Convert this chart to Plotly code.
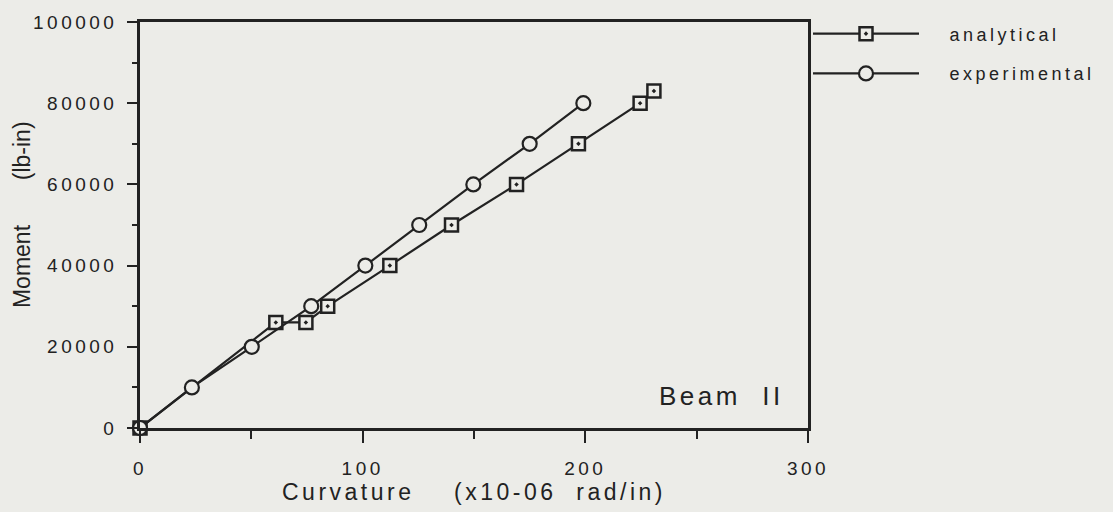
import plotly.graph_objects as go

# Moment-curvature data for Beam II
analytical_curv = [0, 61, 74.5, 84.3, 112.2, 139.9, 169.1, 196.9, 224.6, 230.8]
analytical_moment = [0, 26000, 26000, 30000, 40000, 50000, 60000, 70000, 80000, 83000]

experimental_curv = [0, 23.3, 50.2, 76.9, 101.2, 125.4, 149.7, 175.0, 199.1]
experimental_moment = [0, 10000, 20000, 30000, 40000, 50000, 60000, 70000, 80000]

x_ticks = [0, 100, 200, 300]
y_ticks = [0, 20000, 40000, 60000, 80000, 100000]
y_tick_text = [str(v) for v in y_ticks]

BG = "#ECECE8"
INK = "#222222"
FONT = "Liberation Sans, Arial, Helvetica, sans-serif"

fig = go.Figure()

fig.add_trace(go.Scatter(
    x=analytical_curv, y=analytical_moment, name="   analytical",
    mode="lines+markers", legend="legend", showlegend=True,
    line=dict(color=INK, width=2.2),
    marker=dict(symbol="square-dot", size=13, color=BG,
                line=dict(color=INK, width=2.5)),
    cliponaxis=False,
))

fig.add_trace(go.Scatter(
    x=experimental_curv, y=experimental_moment, name="   experimental",
    mode="lines+markers", legend="legend2", showlegend=True,
    line=dict(color=INK, width=2.2),
    marker=dict(symbol="circle", size=14, color=BG,
                line=dict(color=INK, width=2.2)),
    cliponaxis=False,
))

axis_common = dict(
    showline=True, linecolor=INK, linewidth=2.5, mirror=True,
    showgrid=False, zeroline=False, ticks="outside",
    tickcolor=INK, tickwidth=2,
    tickfont=dict(family=FONT, size=19, color=INK),
)

fig.update_xaxes(
    range=[0, 300], tickvals=x_ticks, ticklen=12,
    minor=dict(dtick=50, ticks="outside", ticklen=8, tickcolor=INK, tickwidth=2),
    ticklabelstandoff=9,
    title=dict(text="Curvature    (x10-06  rad/in)",
               font=dict(family=FONT, size=23, color=INK), standoff=4),
    **axis_common,
)
fig.update_yaxes(
    range=[0, 100000], tickvals=y_ticks, ticktext=y_tick_text, ticklen=10,
    minor=dict(dtick=10000, ticks="outside", ticklen=5, tickcolor=INK, tickwidth=2),
    ticklabelstandoff=6,
    **axis_common,
)

legend_common = dict(
    xref="paper", yref="paper", xanchor="left", yanchor="middle",
    bgcolor="rgba(0,0,0,0)", borderwidth=0, itemwidth=106,
    font=dict(family=FONT, size=18, color=INK), visible=True,
)

fig.update_layout(
    width=1113, height=512,
    margin=dict(l=140, r=305, t=20, b=84),
    paper_bgcolor=BG, plot_bgcolor=BG,
    font=dict(family=FONT, color=INK),
    showlegend=True,
    legend=dict(x=1.0, y=(428 - 32) / 408, **legend_common),
    legend2=dict(x=1.0, y=(428 - 72) / 408, **legend_common),
    annotations=[
        dict(text="Beam  II", xref="paper", yref="paper",
             x=(721 - 140) / 668, y=(428 - 396) / 408,
             xanchor="center", yanchor="middle",
             showarrow=False, font=dict(family=FONT, size=26, color=INK)),
        dict(text="Moment       (lb-in)", xref="paper", yref="paper",
             x=(22 - 140) / 668, y=(428 - 214) / 408, textangle=-90,
             xanchor="center", yanchor="middle",
             showarrow=False, font=dict(family=FONT, size=23, color=INK)),
    ],
)

# Horizontal labels get wide tracking; the rotated axis title keeps normal spacing.
spacing_css = (
    "var s=document.createElement('style');"
    "s.textContent='.main-svg text{letter-spacing:3.5px}"
    " .annotation[data-index=\"1\"] text{letter-spacing:0 !important}"
    " .legend, .legend *, .legend2, .legend2 *{clip-path:none !important}';"
    "document.head.appendChild(s);"
)

fig.write_html("out.html", post_script=spacing_css)
